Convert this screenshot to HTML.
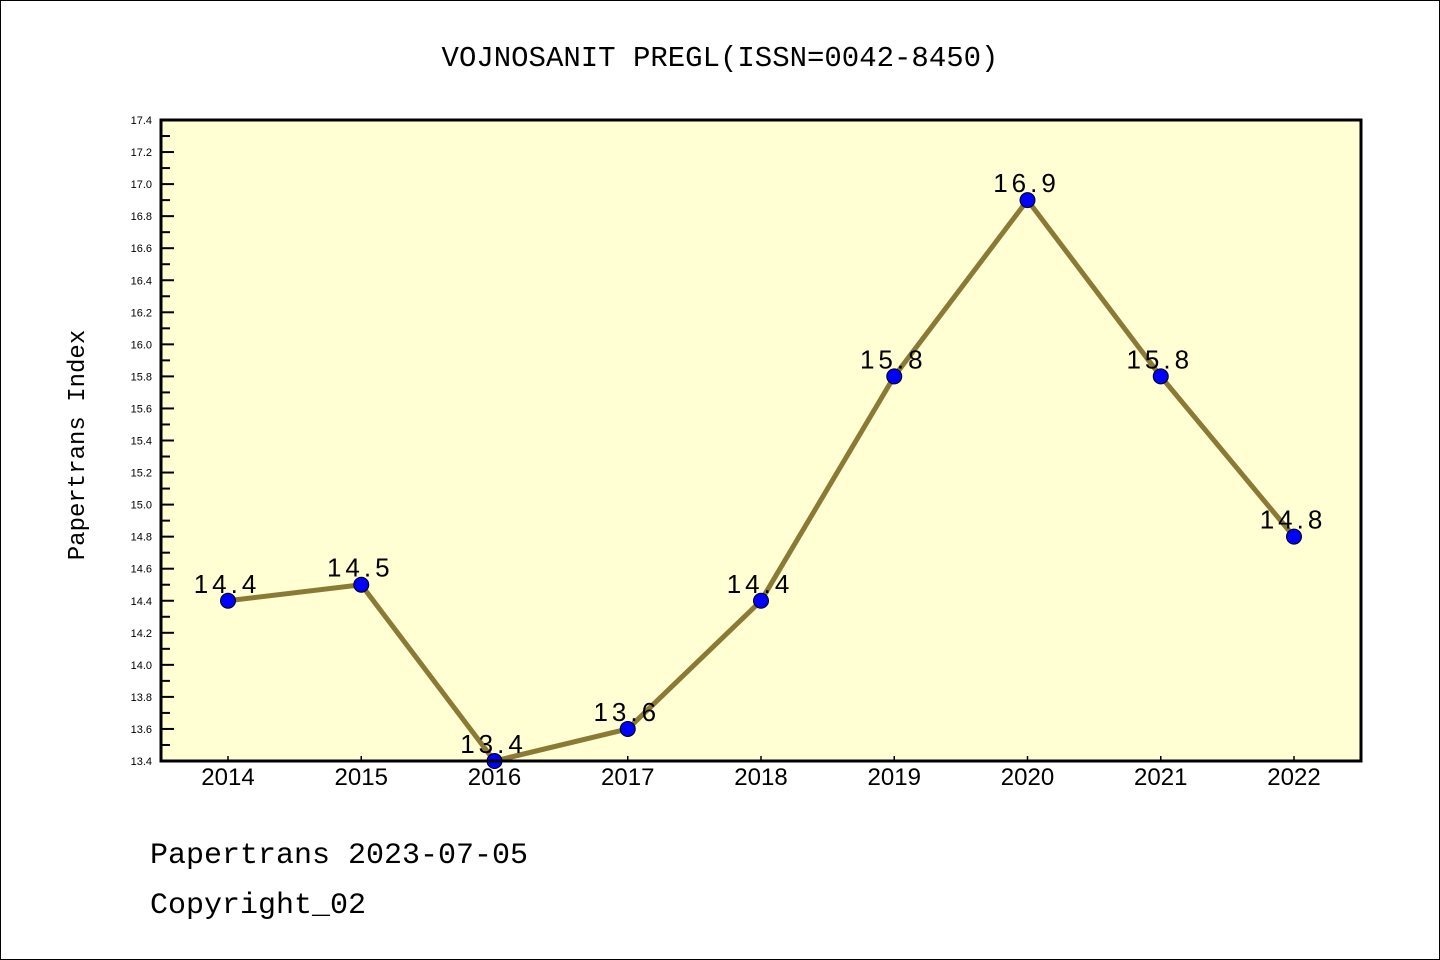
<!DOCTYPE html>
<html><head><meta charset="utf-8"><style>
html,body{margin:0;padding:0;background:#fff;}
svg{display:block;}
</style></head><body>
<svg width="1440" height="960" xmlns="http://www.w3.org/2000/svg">
<rect x="0.5" y="0.5" width="1439" height="959" fill="#fff" stroke="#000" stroke-width="1"/>
<text x="720" y="66" text-anchor="middle" font-family="Liberation Mono, monospace" font-size="29" fill="#000">VOJNOSANIT PREGL(ISSN=0042-8450)</text>
<rect x="161" y="120" width="1200" height="641" fill="#ffffd3"/>
<g id="yaxis"></g>
<g id="xaxis"></g>
<g id="series"></g>
<rect x="161" y="120" width="1200" height="641" fill="none" stroke="#000" stroke-width="3"/>
<text transform="translate(84,445) rotate(-90)" text-anchor="middle" font-family="Liberation Mono, monospace" font-size="24" fill="#000">Papertrans Index</text>
<text x="150" y="863" font-family="Liberation Mono, monospace" font-size="30" fill="#000">Papertrans 2023-07-05</text>
<text x="150" y="913" font-family="Liberation Mono, monospace" font-size="30" fill="#000">Copyright_02</text>
</svg>
<script>
const categories = ["2014","2015","2016","2017","2018","2019","2020","2021","2022"];
const values = [14.4,14.5,13.4,13.6,14.4,15.8,16.9,15.8,14.8];
const yTicks = ["13.4","13.6","13.8","14.0","14.2","14.4","14.6","14.8","15.0","15.2","15.4","15.6","15.8","16.0","16.2","16.4","16.6","16.8","17.0","17.2","17.4"];
const NS="http://www.w3.org/2000/svg";
const yMin=13.4,yMax=17.4,plotTop=120,plotBot=761,plotLeft=161;
const yS=v=>plotBot-(v-yMin)/(yMax-yMin)*(plotBot-plotTop);
const xS=i=>228+i*(1294-228)/(categories.length-1);
function mk(t,a,p){const e=document.createElementNS(NS,t);for(const k in a)e.setAttribute(k,a[k]);p.appendChild(e);return e;}
const ya=document.getElementById('yaxis'),xa=document.getElementById('xaxis'),se=document.getElementById('series');
yTicks.forEach((t,i)=>{
  const v=parseFloat(t),yy=yS(v);
  const l=mk('line',{x1:plotLeft,x2:plotLeft+13,y1:yy,y2:yy,stroke:'#000','stroke-width':2},ya);
  
  
  if(i<yTicks.length-1){const ym=yS(v+0.1);
    const m=mk('line',{x1:plotLeft,x2:plotLeft+9,y1:ym,y2:ym,stroke:'#000','stroke-width':2},ya);
    
    }
  const tx=mk('text',{x:152,y:yy+4,'text-anchor':'end','font-family':'Liberation Sans, sans-serif','font-size':11,fill:'#000'},ya);
  tx.textContent=t;
  
  
});
categories.forEach((c,i)=>{
  const l=mk('line',{x1:xS(i),x2:xS(i),y1:plotBot,y2:plotBot-5,stroke:'#000','stroke-width':1.5},xa);
  
  
  const t=mk('text',{x:xS(i),y:785,'text-anchor':'middle','font-family':'Liberation Sans, sans-serif','font-size':24,fill:'#000'},xa);
  t.textContent=c;
  
  
});
const pl=mk('polyline',{points:values.map((v,i)=>xS(i)+','+yS(v)).join(' '),fill:'none',stroke:'#8b7a35','stroke-width':5},se);


values.forEach((v,i)=>{
  const c=mk('circle',{cx:xS(i),cy:yS(v),r:7.5,fill:'#0000ff',stroke:'#000','stroke-width':1},se);
  
  
  const t=mk('text',{x:xS(i)-1,y:yS(v)-8,'text-anchor':'middle','font-family':'Liberation Sans, sans-serif','font-size':26,'letter-spacing':4,fill:'#000'},se);
  t.textContent=v.toFixed(1);
  
  
});
</script>
</body></html>
